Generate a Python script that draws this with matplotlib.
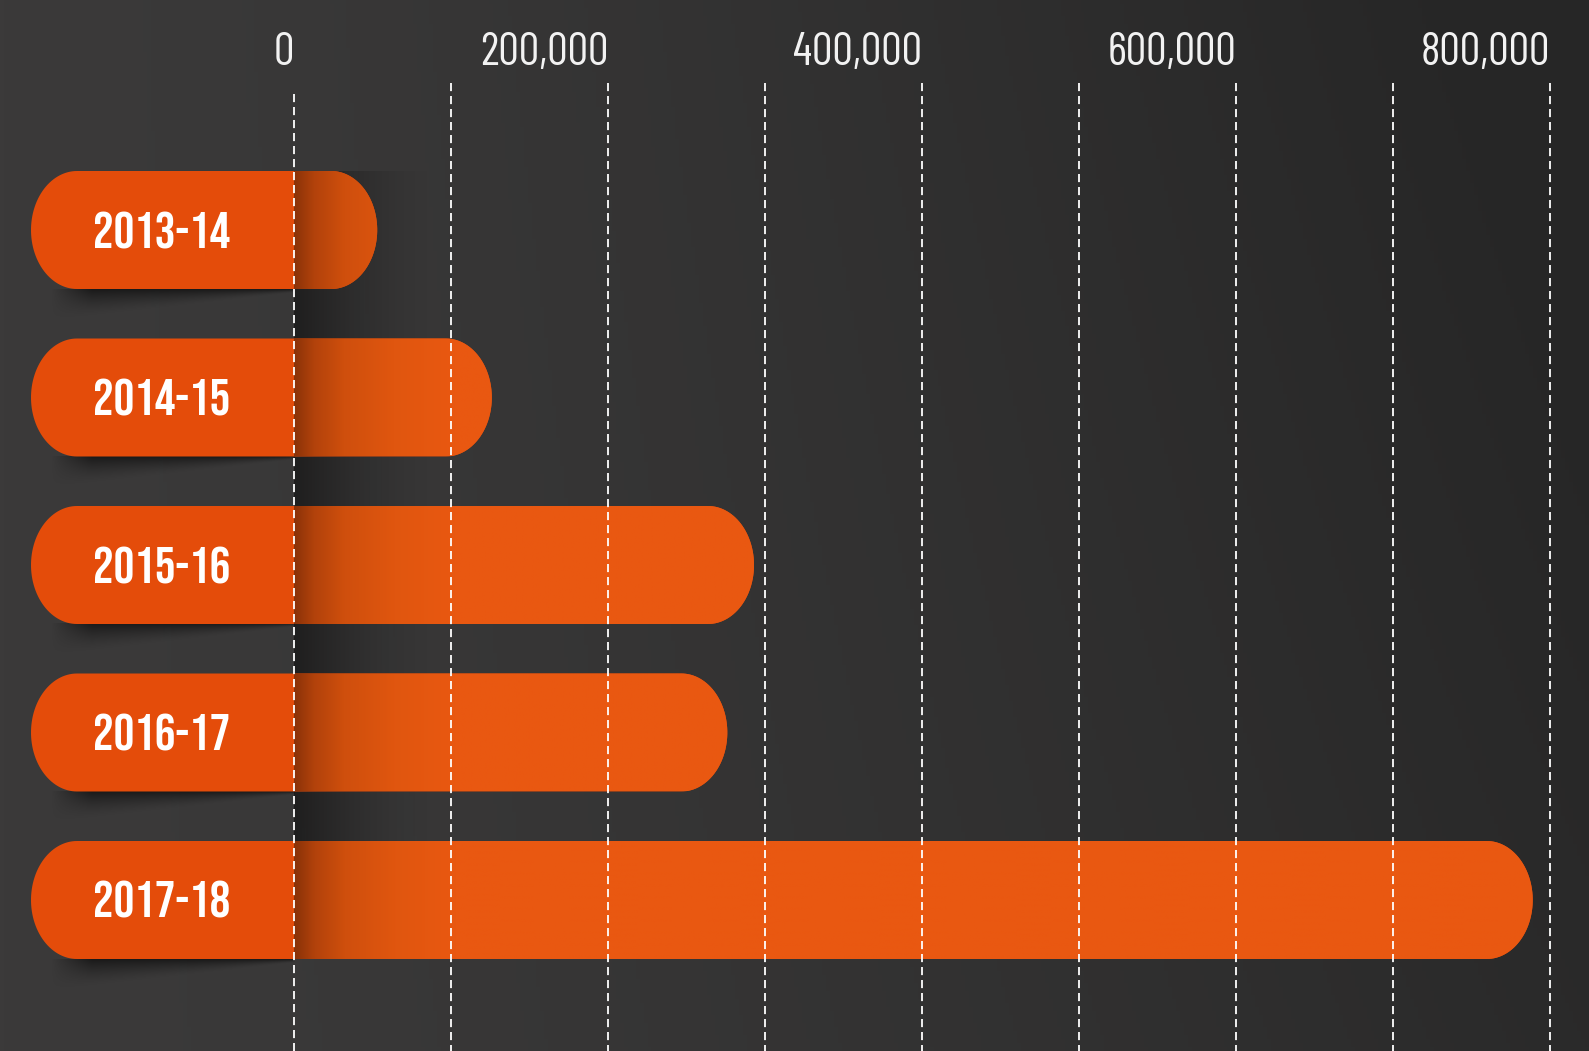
import numpy as np
import matplotlib
matplotlib.use("Agg")
import matplotlib.pyplot as plt
import matplotlib.transforms as mtransforms
from matplotlib import font_manager
from matplotlib.colors import to_rgb
from matplotlib.patches import Polygon

# data
seasons = ["2013-14", "2014-15", "2015-16", "2016-17", "2017-18"]
values = [53000, 126000, 293000, 276000, 789000]
grid_ticks = [0, 100000, 200000, 300000, 400000, 500000, 600000, 700000, 800000]
label_ticks = [0, 200000, 400000, 600000, 800000]
label_texts = ["0", "200,000", "400,000", "600,000", "800,000"]

W, H = 1589, 1051
X0 = 294            # pixel of value 0
PX = 1256 / 800000  # pixels per unit
ROW0, STEP = 230, 167.5

names = {f.name for f in font_manager.fontManager.ttflist}


def pick(cands):
    for c in cands:
        if c in names:
            return c
    return "DejaVu Sans"


TICK_FONT = pick(["Saira Extra Condensed", "Barlow Condensed", "Saira Condensed",
                  "IBM Plex Sans Condensed", "Oswald"])
YEAR_FONT = pick(["Bebas Neue", "Oswald", "Barlow Condensed", "IBM Plex Sans Condensed"])


def dx(p):
    return p / PX


def dy(p):
    return p / STEP


fig = plt.figure(figsize=(W / 100, H / 100), dpi=100)

# background gradient
bg = fig.add_axes([0, 0, 1, 1])
bg.axis("off")
u, v = np.meshgrid(np.linspace(0, 1, 400), np.linspace(0, 1, 264))
t = np.clip(u ** 1.3 * (0.8 + 0.3 * (1 - v)), 0, 1)
c_left, c_right = np.array(to_rgb("#3b3a3a")), np.array(to_rgb("#262626"))
img = c_left + (c_right - c_left) * t[..., None]
bg.imshow(img, extent=[0, 1, 0, 1], aspect="auto", origin="upper")

ax = fig.add_axes([0, 0, 1, 1])
ax.set_facecolor("none")
ax.axis("off")

h = dy(118)
left = dx(31 - X0)
n = len(seasons)

# fold shadow behind the bars at zero
band = np.zeros((2, 200, 4))
a = np.linspace(0, 1, 200)
band[..., 3] = 0.45 * (1 - a) ** 1.6
ax.imshow(band, extent=[0, dx(140), n - 1 + h / 2, -h / 2], aspect="auto",
          origin="upper", zorder=1, interpolation="bilinear")

# drop shadows under the left part of each bar
sx, sy = np.meshgrid(np.linspace(0, 1, 200), np.linspace(0, 1, 60))
thick = (1 - sx) * 0.9 + 0.1
sh = np.zeros((60, 200, 4))
sh[..., 3] = 0.55 * np.clip(1 - sy / thick, 0, 1) ** 1.5 * np.clip(sx * 6, 0, 1)
for i in range(n):
    ax.imshow(sh, extent=[left + dx(20), 0, i + h / 2 + dy(32), i + h / 2],
              aspect="auto", origin="upper", zorder=1.5, interpolation="bilinear")


def pill(x_start, x_end, yc, half_h, rx):
    th = np.linspace(-np.pi / 2, np.pi / 2, 60)
    right = np.column_stack([x_end - rx + rx * np.cos(th), yc + half_h * np.sin(th)])
    th2 = np.linspace(np.pi / 2, 3 * np.pi / 2, 60)
    lft = np.column_stack([x_start + rx + rx * np.cos(th2), yc + half_h * np.sin(th2)])
    return np.vstack([right, lft])


# bar colouring along x from the zero line
stops_p = [0, 20, 50, 100, 160, 2000]
stops_c = [to_rgb(c) for c in ["#8a3208", "#b2420b", "#cf4f0d", "#e0560f", "#e95811", "#ea5811"]]
rx = dx(46)
for i, (s, val) in enumerate(zip(seasons, values)):
    patch = Polygon(pill(left, val, i, h / 2, rx), closed=True,
                    facecolor="#e44c0a", edgecolor="none", zorder=2)
    ax.add_patch(patch)
    xs = np.linspace(0, val, 600)
    p = xs * PX
    grad = np.stack([np.interp(p, stops_p, [c[k] for c in stops_c]) for k in range(3)], axis=-1)
    grad = np.repeat(grad[None, :, :], 2, axis=0)
    im = ax.imshow(grad, extent=[0, val, i + h / 2, i - h / 2], aspect="auto",
                   origin="upper", zorder=2.5, interpolation="bilinear")
    im.set_clip_path(patch)
    ax.text(dx(162 - X0), i, s, ha="center", va="center", color="white",
            fontsize=37, family=YEAR_FONT, zorder=6)

# dashed grid lines
for g in grid_ticks:
    top = dy(94 - ROW0) if g == 0 else dy(83 - ROW0)
    ax.plot([g, g], [top, dy(H - ROW0)], color="white", lw=1.3,
            linestyle=(0, (4.5, 2.7)), zorder=5, solid_capstyle="butt")

# value labels
trans = mtransforms.blended_transform_factory(ax.transData, ax.transAxes)
for g, lab in zip(label_ticks, label_texts):
    ax.text(g, 1 - 65 / H, lab, transform=trans, ha="right", va="baseline",
            color="#f2f2f2", fontsize=33, fontweight="normal", family=TICK_FONT, zorder=6)

ax.set_xlim(-X0 / PX, (W - X0) / PX)
ax.set_ylim(dy(H - ROW0), dy(-ROW0))

fig.savefig("out.png", dpi=100)
